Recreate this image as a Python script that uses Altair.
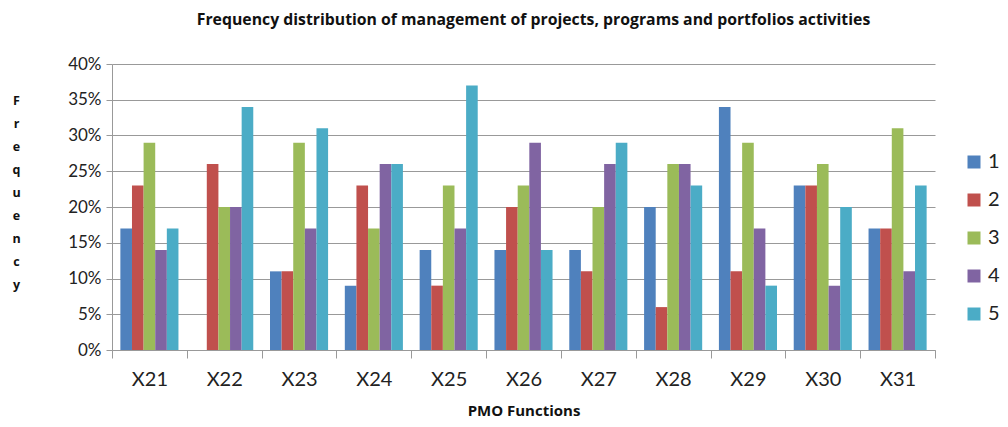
import altair as alt
import pandas as pd

categories = ["X21", "X22", "X23", "X24", "X25", "X26", "X27", "X28", "X29", "X30", "X31"]
series = ["1", "2", "3", "4", "5"]
s1 = [17, 0, 11, 9, 14, 14, 14, 20, 34, 23, 17]
s2 = [23, 26, 11, 23, 9, 20, 11, 6, 11, 23, 17]
s3 = [29, 20, 29, 17, 23, 23, 20, 26, 29, 26, 31]
s4 = [14, 20, 17, 26, 17, 29, 26, 26, 17, 9, 11]
s5 = [17, 34, 31, 26, 37, 14, 29, 23, 9, 20, 23]
colors = ["#4F81BD", "#C0504D", "#9BBB59", "#8064A2", "#4BACC6"]

rows = []
for name, vals in zip(series, [s1, s2, s3, s4, s5]):
    for c, v in zip(categories, vals):
        rows.append({"cat": c, "series": name, "value": v / 100})
df = pd.DataFrame(rows)

FONT = "Open Sans"
LFONT = "Lato"

chart = alt.Chart(df).mark_bar().encode(
    x=alt.X("cat:N", sort=categories,
            scale=alt.Scale(paddingInner=0, paddingOuter=0),
            axis=alt.Axis(title="PMO Functions", labelAngle=0, labelFontSize=20,
                          labelFont=LFONT, labelColor="#222", labelPadding=11,
                          tickBand="extent", tickSize=8, tickColor="#999",
                          domainColor="#999", titleFont=FONT, titleFontSize=15,
                          titleFontWeight="bold", titleColor="#111",
                          titleY=65, titleBaseline="alphabetic")),
    xOffset=alt.XOffset("series:N", sort=series,
                        scale=alt.Scale(paddingInner=0, paddingOuter=0.72)),
    y=alt.Y("value:Q", scale=alt.Scale(domain=[0, 0.4]),
            axis=alt.Axis(format=".0%", values=[i * 0.05 for i in range(9)],
                          labelFontSize=17, labelFont=LFONT, labelColor="#222",
                          labelPadding=5, tickSize=6, tickColor="#999",
                          domainColor="#999", gridColor="#999", gridWidth=1.2,
                          title=list("Frequency"), titleAngle=0,
                          titleFont=FONT, titleFontSize=12.5, titleFontWeight="bold",
                          titleColor="#111", titleLineHeight=23,
                          titleX=-96, titleY=30, titleAlign="center",
                          titleBaseline="top")),
    color=alt.Color("series:N", sort=series,
                    scale=alt.Scale(domain=series, range=colors),
                    legend=alt.Legend(title=None, orient="none", legendX=852,
                                      legendY=88, symbolType="square",
                                      symbolSize=169, symbolStrokeWidth=0,
                                      labelFontSize=20, labelFont=LFONT,
                                      labelColor="#222", rowPadding=18,
                                      padding=0, labelOffset=4)),
).properties(
    width=823, height=286,
    padding={"left": 104, "top": 56, "right": 65, "bottom": 69},
    autosize=alt.AutoSizeParams(type="none"),
    title=alt.TitleParams("Frequency distribution of management of projects, programs and portfolios activities",
                          font=FONT, fontSize=15.8, fontWeight="bold", color="#111",
                          dx=10, offset=26),
).configure_view(stroke=None)

chart.save("out.html", embed_options={"renderer": "svg", "actions": False})
